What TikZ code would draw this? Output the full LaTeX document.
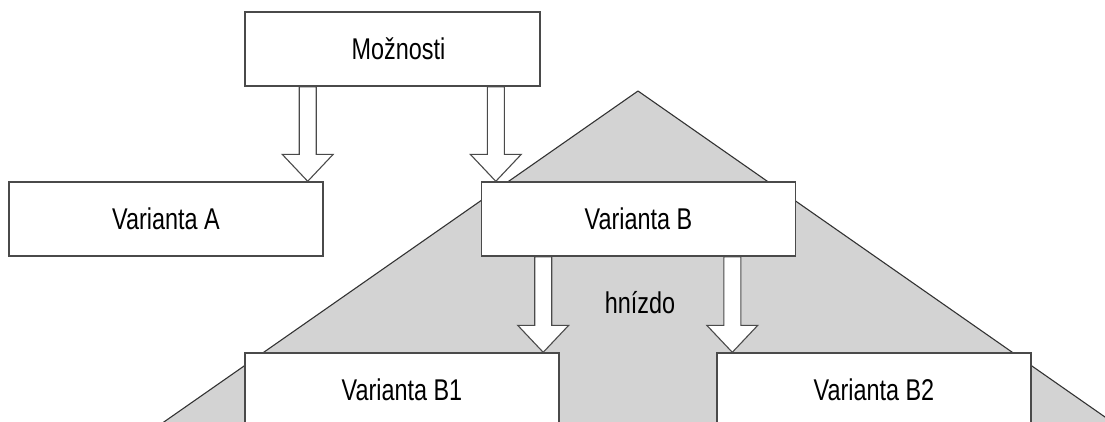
\documentclass[tikz,border=0pt]{standalone}
\usepackage{fontspec}
\setmainfont[FakeStretch=0.78]{Liberation Sans}
\usepackage{tikz}
\usetikzlibrary{calc}
\definecolor{nest}{HTML}{D3D3D3}
\definecolor{edge}{HTML}{4A4A4A}
\tikzset{
  box/.style={draw=edge, fill=white, line width=1.4pt, minimum width=314pt,
    minimum height=74pt, inner sep=0pt, font=\fontsize{30}{36}\selectfont},
  nestarea/.style={fill=nest, draw=black!80, line width=1.1pt, line join=round},
  barrow/.style={draw=edge, fill=white, line width=1.1pt, line join=miter},
  lab/.style={font=\fontsize{30}{36}\selectfont, inner sep=0pt},
}
% block arrow: from a node side (its y) down to the tip point
\newcommand{\barrow}[2]{%
  \draw[barrow] let \p1=(#1), \p2=#2 in
    (\x2-8.5pt,\y1) -- (\x2-8.5pt,\y2+27pt) -- (\x2-25.5pt,\y2+27pt) -- (\x2,\y2)
    -- (\x2+25.5pt,\y2+27pt) -- (\x2+8.5pt,\y2+27pt) -- (\x2+8.5pt,\y1) -- cycle;}

\begin{document}
\begin{tikzpicture}[x=1pt, y=-1pt]
  \clip (0,0) rectangle (1105,421);

  % the nest behind variant B
  \coordinate (top) at (638,91);
  \filldraw[nestarea] (top) -- (108,461) -- (1168,461) -- cycle;
  \node[lab, anchor=base] (nest) at (640,313) {hnízdo};

  \node[box, minimum width=295pt] (mo) at (392.5,49) {\hspace*{12pt}Možnosti};
  \node[box] (va) at (166,219) {Varianta A};
  \node[box] (vb) at (638.5,219) {Varianta B};
  \node[box] (vb1) at (402,390) {Varianta B1};
  \node[box] (vb2) at (874,390) {Varianta B2};

  % arrows
  \barrow{mo.south}{($(va.north east)+(-16,0)$)}
  \barrow{mo.south}{($(vb.north west)+(15,0)$)}
  \barrow{vb.south}{($(vb1.north east)+(-16.5,0)$)}
  \barrow{vb.south}{($(vb2.north west)+(16,0)$)}
\end{tikzpicture}
\end{document}
